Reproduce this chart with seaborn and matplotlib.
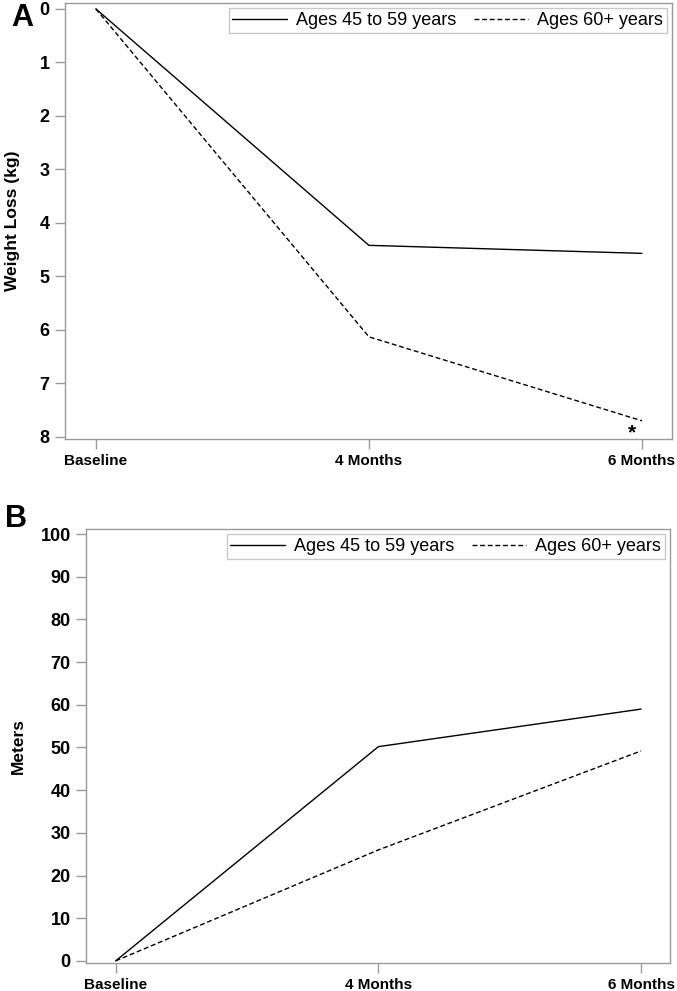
import matplotlib
matplotlib.use("Agg")
import matplotlib.pyplot as plt
import seaborn as sns
import pandas as pd

timepoints = ["Baseline", "4 Months", "6 Months"]
groups = ["Ages 45 to 59 years", "Ages 60+ years"]
weight_loss_45_59 = [0.0, 4.42, 4.57]
weight_loss_60 = [0.0, 6.13, 7.70]
meters_45_59 = [0.0, 50.2, 59.0]
meters_60 = [0.0, 26.0, 49.2]

sns.set_theme(style="white")
plt.rcParams['font.family'] = ['Liberation Sans', 'DejaVu Sans']
plt.rcParams['text.color'] = 'black'
plt.rcParams['axes.labelcolor'] = 'black'
plt.rcParams['xtick.color'] = 'black'
plt.rcParams['ytick.color'] = 'black'

def long_df(a, b):
    rows = []
    for i, t in enumerate(timepoints):
        rows.append({"time": i, "value": a[i], "group": groups[0]})
        rows.append({"time": i, "value": b[i], "group": groups[1]})
    return pd.DataFrame(rows)

dfA = long_df(weight_loss_45_59, weight_loss_60)
dfB = long_df(meters_45_59, meters_60)

fig = plt.figure(figsize=(6.77, 9.91), dpi=100)
axA = fig.add_axes([65/677, 1-439/991, (672-65)/677, (439-3)/991])
axB = fig.add_axes([86/677, 1-963/991, (670-86)/677, (963-529)/991])

grey = "#9a9a9a"

def style(ax, df):
    sns.lineplot(data=df, x="time", y="value", hue="group", style="group",
                 palette=["black", "black"], dashes=[(None, None), (3.5, 2)],
                 linewidth=1.0, ax=ax, legend=True)
    for s in ax.spines.values():
        s.set_color(grey)
        s.set_linewidth(1.0)
    ax.tick_params(axis="both", which="both", length=7, width=1, color=grey,
                   labelcolor="black", direction="out", bottom=True, left=True, pad=4)
    ax.set_xticks(range(len(timepoints)))
    ax.set_xticklabels(timepoints, fontweight="bold", fontsize=11)
    ax.set_xlim(-0.113, 2.11)
    ax.set_xlabel("")
    leg = ax.legend(loc="upper right", ncol=2, fontsize=13, frameon=True,
                    fancybox=False, handlelength=3.0, columnspacing=1.0,
                    handletextpad=0.5, borderpad=0.2, borderaxespad=0.3)
    leg.get_frame().set_edgecolor("#bbbbbb")
    leg.get_frame().set_linewidth(1.0)
    for t in leg.get_texts():
        t.set_color("black")
    for h in leg.get_lines():
        h.set_color("black")
        h.set_linewidth(1.0)

style(axA, dfA)
style(axB, dfB)

axA.set_ylim(8.04, -0.11)
axA.set_yticks(range(0, 9))
axA.set_yticklabels([str(i) for i in range(0, 9)], fontweight="bold", fontsize=13)
axA.set_ylabel("Weight Loss (kg)", fontweight="bold", fontsize=12.5, color="black")
axA.text(1.965, 7.93, "*", ha="center", va="center", fontsize=15, fontweight="bold", color="black")

axB.set_ylim(-0.5, 101.2)
axB.set_yticks(range(0, 101, 10))
axB.set_yticklabels([str(i) for i in range(0, 101, 10)], fontweight="bold", fontsize=13)
axB.set_ylabel("Meters", fontweight="bold", fontsize=12.5, color="black")

fig.text(22/677, 1-18/991, "A", fontsize=22, fontweight="bold", ha="center", va="center", color="black")
fig.text(16/677, 1-519/991, "B", fontsize=22, fontweight="bold", ha="center", va="center", color="black")

axA.yaxis.set_label_coords(-45/607, 0.5)
axB.yaxis.set_label_coords(-60/584, 0.5)

fig.savefig("out.png", dpi=100)
